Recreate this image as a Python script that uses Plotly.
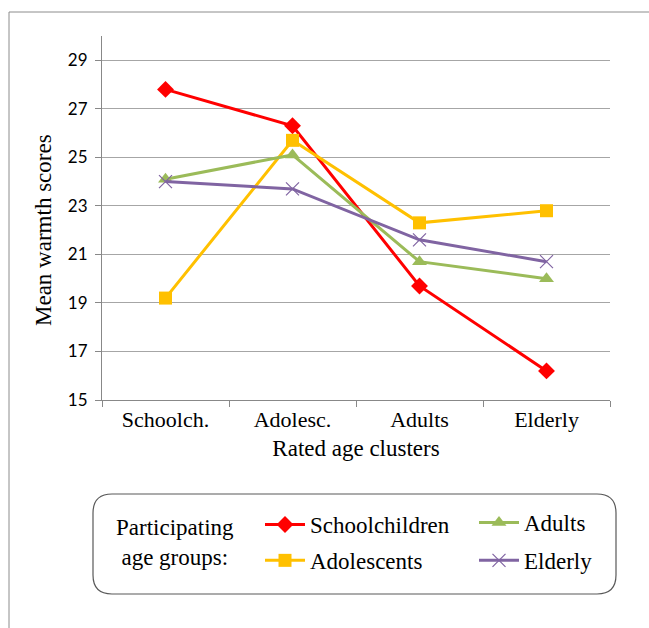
import plotly.graph_objects as go

# Rated age clusters (x categories) and mean warmth scores per participating group
categories = ["Schoolch.", "Adolesc.", "Adults", "Elderly"]
schoolchildren = [27.8, 26.3, 19.7, 16.2]
adolescents = [19.2, 25.7, 22.3, 22.8]
adults = [24.1, 25.1, 20.7, 20.0]
elderly = [24.0, 23.7, 21.6, 20.7]
y_ticks = [15, 17, 19, 21, 23, 25, 27, 29]

SERIF = "Liberation Serif"
SANS = "Lato"

W, H = 649, 628
L, R, T, B = 102, 39, 36, 228
PW, PH = W - L - R, H - T - B


def px_x(px):
    return (px - L) / PW


def px_y(py):
    return (H - B - py) / PH


series = [
    ("Schoolchildren", schoolchildren, "#FF0000", dict(symbol="diamond", size=13), "legend", "g1"),
    ("Adolescents", adolescents, "#FFC000", dict(symbol="square", size=13), "legend", "g2"),
    ("Adults", adults, "#9BBB59", dict(symbol="triangle-up", size=13), "legend2", "g3"),
    ("Elderly", elderly, "#8064A2",
     dict(symbol="x-thin-open", size=13, line=dict(width=1.2, color="#8064A2")), "legend2", "g4"),
]

fig = go.Figure()
for name, vals, color, marker, leg, grp in series:
    mk = dict(color=color, **marker)
    fig.add_trace(go.Scatter(
        x=categories, y=vals, name=name, mode="lines+markers",
        line=dict(color=color, width=3), marker=mk,
        legend=leg, legendgroup=grp,
    ))

# outer frame
fig.add_shape(type="rect", xref="paper", yref="paper",
              x0=px_x(9), x1=px_x(700), y0=px_y(700), y1=px_y(12),
              line=dict(color="#8C8C8C", width=1), fillcolor="rgba(0,0,0,0)", layer="below")

# rounded legend box
x0, x1, y0, y1, r = 93, 616, 494, 594, 19
path = (f"M {x0 + r},{y0} L {x1 - r},{y0} Q {x1},{y0} {x1},{y0 + r} "
        f"L {x1},{y1 - r} Q {x1},{y1} {x1 - r},{y1} L {x0 + r},{y1} "
        f"Q {x0},{y1} {x0},{y1 - r} L {x0},{y0 + r} Q {x0},{y0} {x0 + r},{y0} Z")


def conv(p):
    out = []
    for tok in p.split():
        if "," in tok:
            a, b = tok.split(",")
            out.append(f"{px_x(float(a)):.5f},{px_y(float(b)):.5f}")
        else:
            out.append(tok)
    return " ".join(out)


fig.add_shape(type="path", xref="paper", yref="paper", path=conv(path),
              line=dict(color="#595959", width=1.2), fillcolor="rgba(0,0,0,0)")

fig.add_annotation(xref="paper", yref="paper", x=px_x(175), y=px_y(542),
                   xanchor="center", yanchor="middle",
                   text="Participating<br>age groups:", showarrow=False,
                   font=dict(family=SERIF, size=23, color="#000"), align="center")

# y-axis title, rotated
fig.add_annotation(xref="paper", yref="paper", x=px_x(43), y=px_y(230),
                   xanchor="center", yanchor="middle", textangle=-90,
                   text="Mean warmth scores", showarrow=False,
                   font=dict(family=SERIF, size=23, color="#000"))

legend_font = dict(family=SERIF, size=23, color="#000")

fig.update_layout(
    width=W, height=H,
    margin=dict(l=L, r=R, t=T, b=B),
    paper_bgcolor="white", plot_bgcolor="white",
    showlegend=True,
    legend=dict(x=px_x(260), y=px_y(503), xanchor="left", yanchor="top",
                font=legend_font, itemwidth=40,
                bgcolor="rgba(0,0,0,0)", tracegroupgap=3),
    legend2=dict(x=px_x(474), y=px_y(501), xanchor="left", yanchor="top",
                 font=legend_font, itemwidth=40,
                 bgcolor="rgba(0,0,0,0)", tracegroupgap=5),
    xaxis=dict(
        type="category", range=[-0.5, 3.5], tickson="boundaries",
        ticks="outside", ticklen=6, tickcolor="#888888",
        showline=True, linecolor="#888888", linewidth=1, showgrid=False,
        tickfont=dict(family=SERIF, size=22, color="#000"),
        title=dict(text="Rated age clusters", standoff=8,
                   font=dict(family=SERIF, size=23, color="#000")),
        automargin=False,
    ),
    yaxis=dict(
        range=[15, 30], tickvals=y_ticks, ticks="outside", ticklen=6,
        tickcolor="#888888", showline=True, linecolor="#888888", linewidth=1,
        showgrid=True, gridcolor="#A6A6A6", gridwidth=1, zeroline=False,
        tickfont=dict(family=SANS, size=17, color="#000"), ticklabelstandoff=4,
        automargin=False,
    ),
)

fig.write_html("out.html")
